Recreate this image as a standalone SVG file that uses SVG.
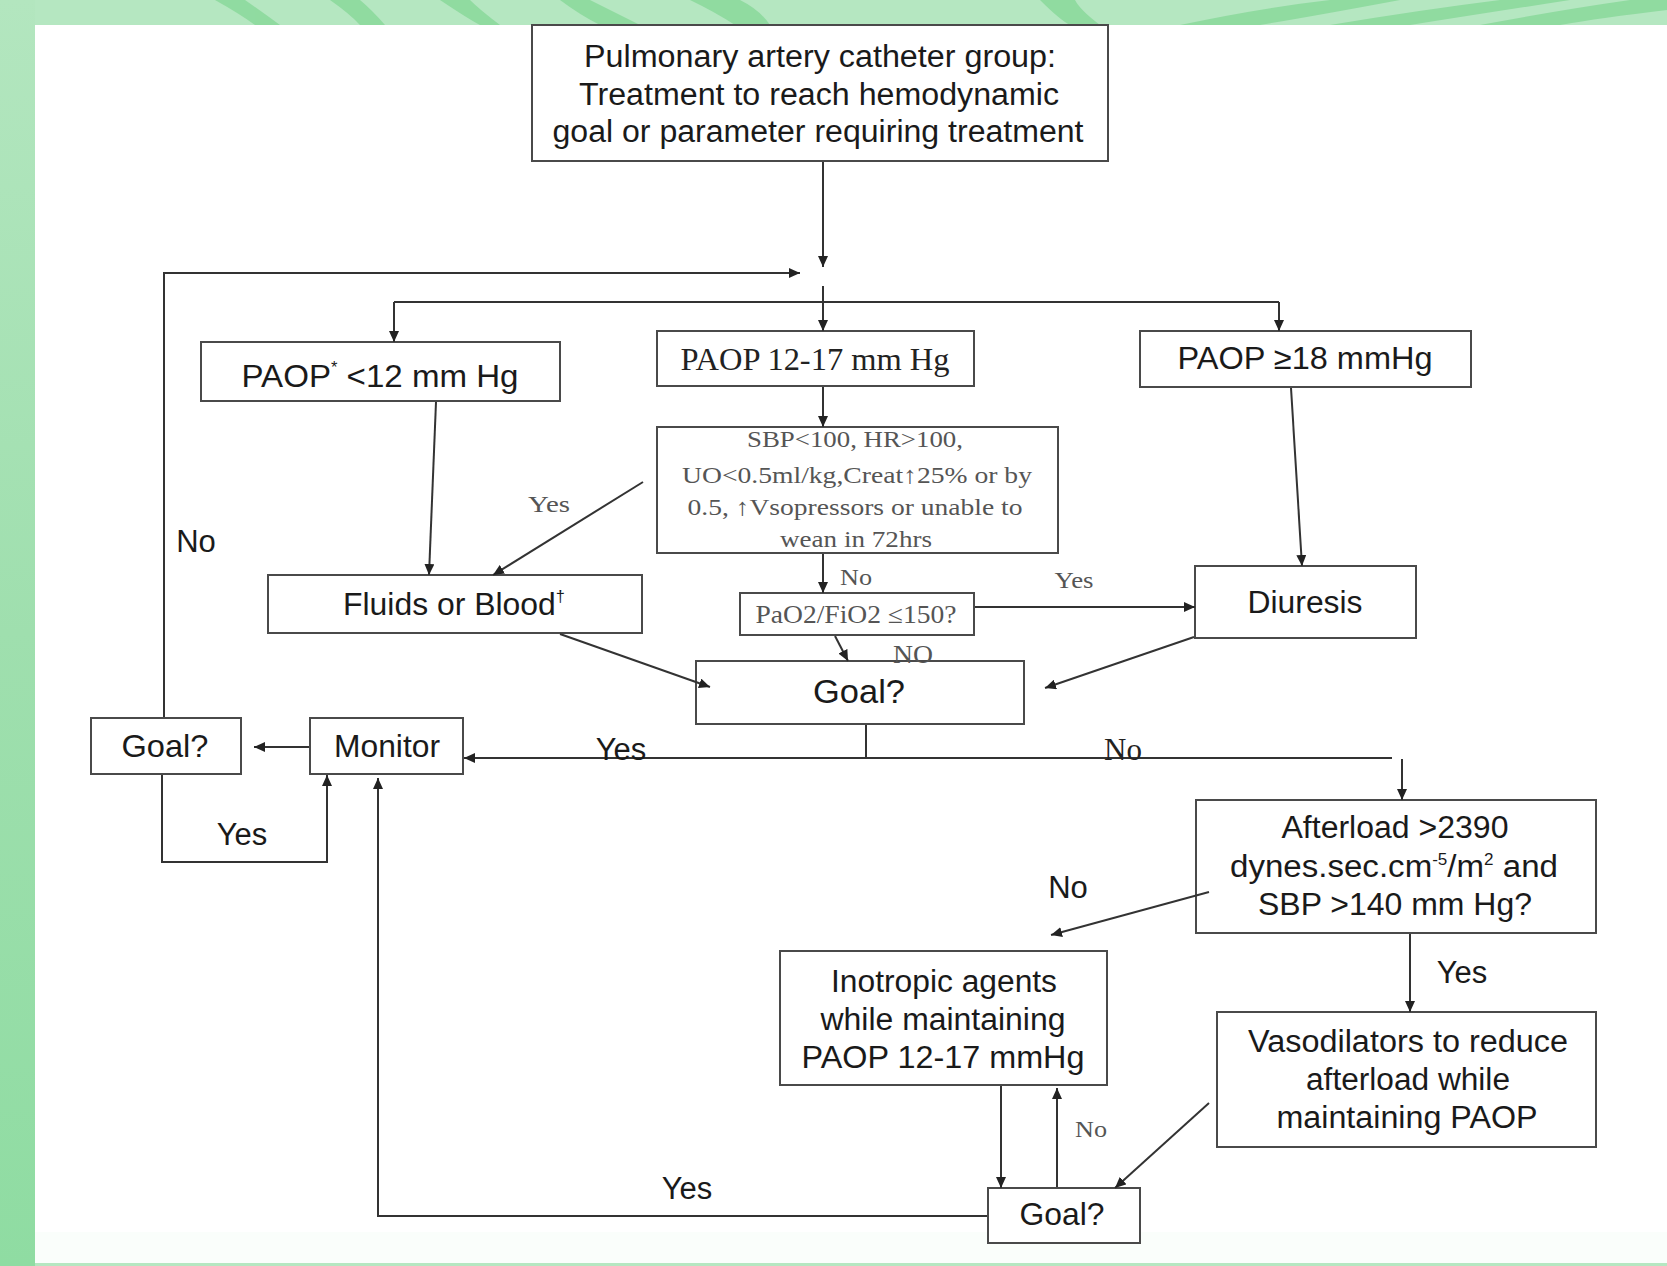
<svg xmlns="http://www.w3.org/2000/svg" width="1667" height="1266" viewBox="0 0 1667 1266">
<defs>
<marker id="ah" markerUnits="userSpaceOnUse" markerWidth="11" markerHeight="10" refX="11" refY="5" orient="auto">
<path d="M0,0 L11,5 L0,10 z" fill="#222"/>
</marker>
<linearGradient id="left" x1="0" y1="0" x2="0" y2="1">
<stop offset="0" stop-color="#b3e6bf"/>
<stop offset="0.5" stop-color="#9fdfae"/>
<stop offset="1" stop-color="#8fdca2"/>
</linearGradient>
</defs>
<style>
.box{fill:#fff;stroke:#4a4a4a;stroke-width:2}
.ln{fill:none;stroke:#333;stroke-width:2}
.ar{fill:none;stroke:#333;stroke-width:2;marker-end:url(#ah)}
.s{font-family:"Liberation Sans",Arial,sans-serif;fill:#1a1a1a;text-anchor:middle}
.r{font-family:"Liberation Serif","DejaVu Serif",serif;fill:#222;text-anchor:middle}
.g{fill:#555}
</style>
<!-- background -->
<rect x="0" y="0" width="1667" height="1266" fill="#b5e7c1"/>
<rect x="0" y="0" width="35" height="1266" fill="url(#left)"/>
<g fill="#84d796" opacity="0.75">
<path d="M215,0 Q240,14 255,25 L280,25 Q262,12 245,0 z"/>
<path d="M330,0 Q350,14 360,25 L385,25 Q372,10 360,0 z"/>
<path d="M440,0 Q470,20 480,25 L500,25 Q480,10 470,0 z"/>
<path d="M560,0 Q580,15 600,25 L640,25 Q610,10 590,0 z"/>
<path d="M690,0 Q715,12 735,25 L770,25 Q760,10 740,0 z"/>
<path d="M1040,0 Q1060,20 1070,25 L1100,25 Q1080,10 1075,0 z"/>
<path d="M1180,25 Q1260,8 1330,0 L1400,0 Q1320,15 1260,25 z"/>
<path d="M1330,25 Q1420,10 1500,0 L1570,0 Q1480,14 1410,25 z"/>
<path d="M1480,25 Q1560,10 1630,0 L1667,0 L1667,10 Q1600,18 1560,25 z"/>
</g>
<rect x="35" y="25" width="1632" height="1238" fill="#ffffff"/>
<rect x="35" y="1232" width="1632" height="31" fill="#fafefb"/>

<g id="n-start">
<rect class="box" x="532" y="25" width="576" height="136"/>
<text class="s" x="820" y="67" font-size="31" textLength="472" lengthAdjust="spacingAndGlyphs">Pulmonary artery catheter group:</text>
<text class="s" x="819" y="105" font-size="31" textLength="480" lengthAdjust="spacingAndGlyphs">Treatment to reach hemodynamic</text>
<text class="s" x="818" y="142" font-size="31" textLength="531" lengthAdjust="spacingAndGlyphs">goal or parameter requiring treatment</text>
</g>

<g id="n-paop-low">
<rect class="box" x="201" y="342" width="359" height="59"/>
<text class="s" x="380" y="387" font-size="32" textLength="277" lengthAdjust="spacingAndGlyphs">PAOP<tspan font-size="16" dy="-14">*</tspan><tspan dy="14"> &lt;12 mm Hg</tspan></text>
</g>

<g id="n-paop-mid">
<rect class="box" x="657" y="331" width="317" height="55"/>
<text class="r" x="815" y="370" font-size="32" textLength="269" lengthAdjust="spacingAndGlyphs">PAOP 12-17 mm Hg</text>
</g>

<g id="n-paop-high">
<rect class="box" x="1140" y="331" width="331" height="56"/>
<text class="s" x="1305" y="369" font-size="31" textLength="255" lengthAdjust="spacingAndGlyphs">PAOP ≥18 mmHg</text>
</g>

<g id="n-sbp">
<rect class="box" x="657" y="427" width="401" height="126"/>
<text class="r g" x="855" y="447" font-size="24" textLength="216" lengthAdjust="spacingAndGlyphs">SBP&lt;100, HR&gt;100,</text>
<text class="r g" x="857" y="483" font-size="24" textLength="350" lengthAdjust="spacingAndGlyphs">UO&lt;0.5ml/kg,Creat↑25% or by</text>
<text class="r g" x="855" y="515" font-size="24" textLength="335" lengthAdjust="spacingAndGlyphs">0.5, ↑Vsopressors or unable to</text>
<text class="r g" x="856" y="547" font-size="24" textLength="152" lengthAdjust="spacingAndGlyphs">wean in 72hrs</text>
</g>

<g id="n-fluids">
<rect class="box" x="268" y="575" width="374" height="58"/>
<text class="s" x="454" y="615" font-size="31" textLength="222" lengthAdjust="spacingAndGlyphs">Fluids or Blood<tspan font-size="16" dy="-13">†</tspan></text>
</g>

<g id="n-pao2">
<rect class="box" x="740" y="593" width="234" height="42"/>
<text class="r g" x="856" y="623" font-size="25" textLength="201" lengthAdjust="spacingAndGlyphs">PaO2/FiO2 ≤150?</text>
</g>

<g id="n-diuresis">
<rect class="box" x="1195" y="566" width="221" height="72"/>
<text class="s" x="1305" y="613" font-size="31" textLength="115" lengthAdjust="spacingAndGlyphs">Diuresis</text>
</g>

<g id="n-goal-mid">
<rect class="box" x="696" y="661" width="328" height="63"/>
<text class="s" x="859" y="703" font-size="34" textLength="92" lengthAdjust="spacingAndGlyphs">Goal?</text>
</g>

<g id="n-monitor">
<rect class="box" x="310" y="718" width="153" height="56"/>
<text class="s" x="387" y="757" font-size="32" textLength="106" lengthAdjust="spacingAndGlyphs">Monitor</text>
</g>

<g id="n-goal-left">
<rect class="box" x="91" y="718" width="150" height="56"/>
<text class="s" x="165" y="757" font-size="32" textLength="87" lengthAdjust="spacingAndGlyphs">Goal?</text>
</g>

<g id="n-afterload">
<rect class="box" x="1196" y="800" width="400" height="133"/>
<text class="s" x="1395" y="838" font-size="31" textLength="227" lengthAdjust="spacingAndGlyphs">Afterload &gt;2390</text>
<text class="s" x="1394" y="877" font-size="31" textLength="328" lengthAdjust="spacingAndGlyphs">dynes.sec.cm<tspan font-size="16" dy="-12">-5</tspan><tspan dy="12">/m</tspan><tspan font-size="16" dy="-12">2</tspan><tspan dy="12">  and</tspan></text>
<text class="s" x="1395" y="915" font-size="31" textLength="274" lengthAdjust="spacingAndGlyphs">SBP &gt;140 mm Hg?</text>
</g>

<g id="n-inotropic">
<rect class="box" x="780" y="951" width="327" height="134"/>
<text class="s" x="944" y="992" font-size="31" textLength="226" lengthAdjust="spacingAndGlyphs">Inotropic agents</text>
<text class="s" x="943" y="1030" font-size="31" textLength="245" lengthAdjust="spacingAndGlyphs">while maintaining</text>
<text class="s" x="943" y="1068" font-size="31" textLength="283" lengthAdjust="spacingAndGlyphs">PAOP 12-17 mmHg</text>
</g>

<g id="n-vaso">
<rect class="box" x="1217" y="1012" width="379" height="135"/>
<text class="s" x="1408" y="1052" font-size="31" textLength="320" lengthAdjust="spacingAndGlyphs">Vasodilators to reduce</text>
<text class="s" x="1408" y="1090" font-size="31" textLength="204" lengthAdjust="spacingAndGlyphs">afterload while</text>
<text class="s" x="1407" y="1128" font-size="31" textLength="261" lengthAdjust="spacingAndGlyphs">maintaining PAOP</text>
</g>

<g id="n-goal-bottom">
<rect class="box" x="988" y="1188" width="152" height="55"/>
<text class="s" x="1062" y="1225" font-size="32" textLength="85" lengthAdjust="spacingAndGlyphs">Goal?</text>
</g>

<!-- connectors -->
<g id="connectors">
<line class="ar" x1="823" y1="162" x2="823" y2="267"/>
<polyline class="ar" points="164,717 164,273 800,273"/>
<polyline class="ln" points="394,302 1279,302"/>
<line class="ar" x1="394" y1="302" x2="394" y2="342"/>
<line class="ar" x1="823" y1="286" x2="823" y2="331"/>
<line class="ar" x1="1279" y1="302" x2="1279" y2="331"/>
<line class="ar" x1="823" y1="387" x2="823" y2="427"/>
<line class="ar" x1="436" y1="402" x2="429" y2="575"/>
<line class="ar" x1="643" y1="482" x2="493" y2="575"/>
<line class="ar" x1="1291" y1="388" x2="1302" y2="566"/>
<line class="ar" x1="823" y1="554" x2="823" y2="593"/>
<line class="ar" x1="975" y1="607" x2="1195" y2="607"/>
<line class="ar" x1="560" y1="634" x2="710" y2="687"/>
<line class="ar" x1="835" y1="636" x2="848" y2="661"/>
<line class="ar" x1="1194" y1="637" x2="1045" y2="688"/>
<polyline class="ln" points="866,725 866,758"/>
<line class="ar" x1="1392" y1="758" x2="464" y2="758"/>
<line class="ar" x1="1402" y1="759" x2="1402" y2="800"/>
<line class="ar" x1="309" y1="747" x2="254" y2="747"/>
<polyline class="ar" points="162,775 162,862 327,862 327,775"/>
<polyline class="ar" points="987,1216 378,1216 378,778"/>
<line class="ar" x1="1209" y1="892" x2="1051" y2="935"/>
<line class="ar" x1="1410" y1="934" x2="1410" y2="1012"/>
<line class="ar" x1="1001" y1="1086" x2="1001" y2="1188"/>
<line class="ar" x1="1057" y1="1187" x2="1057" y2="1088"/>
<line class="ar" x1="1209" y1="1103" x2="1115" y2="1188"/>
<!-- labels -->
<text class="s" x="196" y="552" font-size="31">No</text>
<text class="s" x="242" y="845" font-size="31">Yes</text>
<text class="s" x="621" y="760" font-size="31">Yes</text>
<text class="r" x="1123" y="760" font-size="31">No</text>
<text class="r g" x="549" y="512" font-size="24" textLength="42" lengthAdjust="spacingAndGlyphs">Yes</text>
<text class="r g" x="856" y="585" font-size="24" textLength="32" lengthAdjust="spacingAndGlyphs">No</text>
<text class="r g" x="913" y="663" font-size="25" textLength="40" lengthAdjust="spacingAndGlyphs">NO</text>
<text class="r g" x="1074" y="588" font-size="24" textLength="39" lengthAdjust="spacingAndGlyphs">Yes</text>
<text class="s" x="1068" y="898" font-size="31">No</text>
<text class="s" x="1462" y="983" font-size="31">Yes</text>
<text class="r g" x="1091" y="1137" font-size="24" textLength="32" lengthAdjust="spacingAndGlyphs">No</text>
<text class="s" x="687" y="1199" font-size="31">Yes</text>
</g>
</svg>
